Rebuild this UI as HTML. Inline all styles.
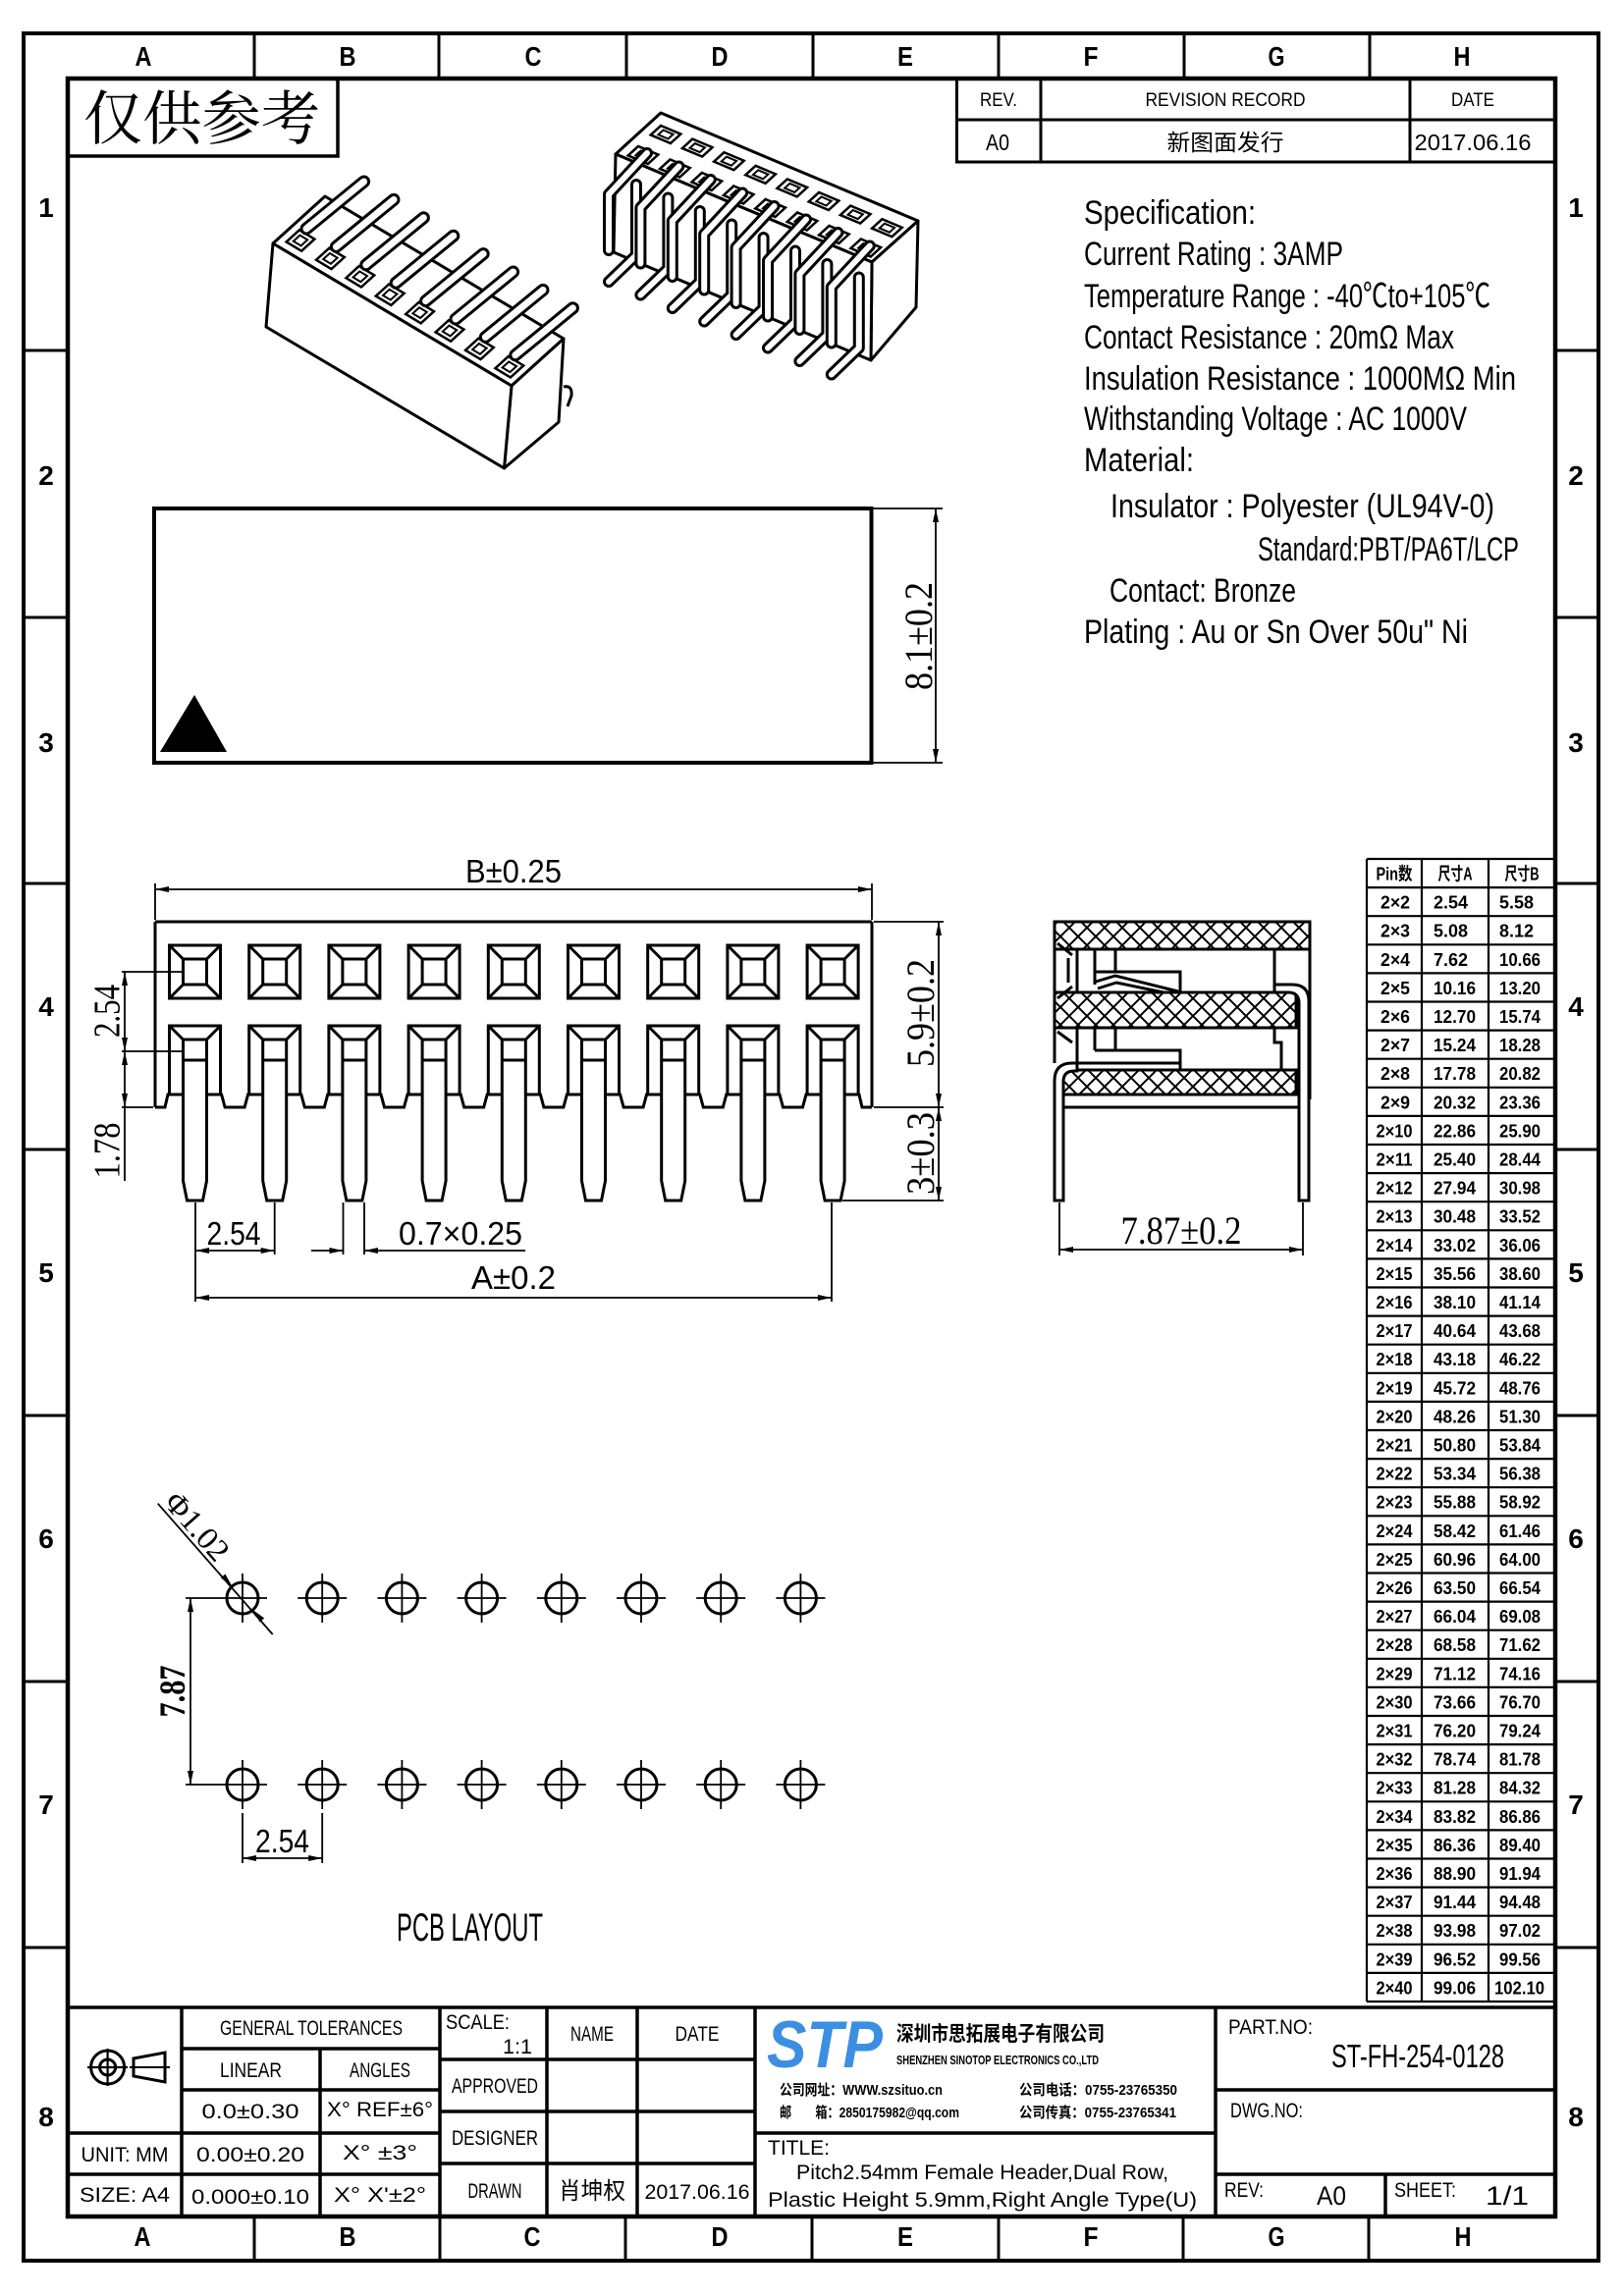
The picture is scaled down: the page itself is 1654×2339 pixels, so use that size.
<!DOCTYPE html>
<html><head><meta charset="utf-8">
<style>
html,body{margin:0;padding:0;background:#fff;}
svg{display:block;}
.s{font-family:"Liberation Sans","Noto Sans CJK SC",sans-serif;fill:#000;}
.r{font-family:"Liberation Serif","Noto Serif CJK SC",serif;fill:#000;}
.k{font-family:"Noto Serif CJK SC","Noto Sans CJK SC",serif;fill:#000;}
.m{text-anchor:middle;}
</style></head><body>
<svg width="1654" height="2339" viewBox="0 0 1654 2339" xmlns="http://www.w3.org/2000/svg">
<defs>
<marker id="ar" viewBox="0 0 14 6" refX="14" refY="3" markerWidth="14" markerHeight="6" markerUnits="userSpaceOnUse" orient="auto-start-reverse"><path d="M0,0L14,3L0,6z" fill="#000"/></marker>
<pattern id="hx" width="18" height="18" patternUnits="userSpaceOnUse"><path d="M0,0L18,18M18,0L0,18" stroke="#000" stroke-width="2"/></pattern>
<g id="fv" fill="none" stroke="#000" stroke-width="3">
<rect x="-26" y="963" width="52" height="54"/>
<rect x="-12" y="977" width="24" height="26"/>
<path d="M-26,963L-12,977M26,963L12,977M-26,1017L-12,1003M26,1017L12,1003"/>
<path d="M-26,1115V1045H26V1115M-26,1045L-12,1059M26,1045L12,1059"/>
<path d="M-12,1059V1203L-8,1223H8L12,1203V1059Z" fill="#fff"/>
<path d="M-12,1059H12M-12,1080H12"/>
</g>
<g id="ph"><circle r="16" fill="none" stroke="#000" stroke-width="3"/><path d="M-25,0H25M0,-25V25" stroke="#000" stroke-width="1.8"/></g>
<g id="o1"><polygon points="14.4,-1.4 1.1,10.7 -14.4,1.4 -1.1,-10.7" fill="#fff" stroke="#000" stroke-width="2.5"/><polygon points="7.2,-0.7 0.55,5.35 -7.2,0.7 -0.55,-5.35" fill="none" stroke="#000" stroke-width="2"/></g>
<g id="p1"><path d="M6,-12L64.6,-60" stroke="#000" stroke-width="13" stroke-linecap="round"/><path d="M6,-12L64.6,-60" stroke="#fff" stroke-width="7" stroke-linecap="round"/></g>
<g id="o2"><polygon points="4.97,8.98 15.31,-0.46 -4.97,-8.98 -15.31,0.46" fill="#fff" stroke="#000" stroke-width="2.5"/><polygon points="2.5,4.5 7.65,-0.23 -2.5,-4.5 -7.65,0.23" fill="none" stroke="#000" stroke-width="2"/></g>
<g id="rr"><path d="M-7,30L-7,102L-35,129" fill="none" stroke="#000" stroke-width="12" stroke-linecap="round" stroke-linejoin="round"/><path d="M-7,30L-7,102L-35,129" fill="none" stroke="#fff" stroke-width="6" stroke-linecap="round" stroke-linejoin="round"/></g>
<g id="rf"><path d="M4,-2L-35,40L-35,97" fill="none" stroke="#000" stroke-width="12" stroke-linecap="round" stroke-linejoin="round"/><path d="M4,-2L-35,40L-35,97" fill="none" stroke="#fff" stroke-width="6" stroke-linecap="round" stroke-linejoin="round"/></g>
</defs>
<rect x="0" y="0" width="1654" height="2339" fill="#fff"/>

<!-- frame -->
<g fill="none" stroke="#000">
<rect x="24" y="34" width="1604" height="2269" stroke-width="4"/>
<rect x="69" y="80" width="1515" height="2178" stroke-width="4.5"/>
<path stroke-width="3" d="M259,34V80M447,34V80M638,34V80M828,34V80M1017,34V80M1206,34V80M1395,34V80
M259,2258V2303M448,2258V2303M637,2258V2303M827,2258V2303M1017,2258V2303M1205,2258V2303M1394,2258V2303
M24,357H69M24,629H69M24,900H69M24,1171H69M24,1442H69M24,1713H69M24,1984H69
M1584,357H1628M1584,629H1628M1584,900H1628M1584,1171H1628M1584,1442H1628M1584,1713H1628M1584,1984H1628"/>
</g>
<g class="s m" font-size="28" font-weight="bold">
<text x="146" y="67" textLength="17" lengthAdjust="spacingAndGlyphs">A</text><text x="354" y="67" textLength="17" lengthAdjust="spacingAndGlyphs">B</text><text x="543" y="67" textLength="17" lengthAdjust="spacingAndGlyphs">C</text><text x="733" y="67" textLength="17" lengthAdjust="spacingAndGlyphs">D</text><text x="922" y="67" textLength="16" lengthAdjust="spacingAndGlyphs">E</text><text x="1111" y="67" textLength="15" lengthAdjust="spacingAndGlyphs">F</text><text x="1300" y="67" textLength="17" lengthAdjust="spacingAndGlyphs">G</text><text x="1489" y="67" textLength="17" lengthAdjust="spacingAndGlyphs">H</text>
<text x="145" y="2288" textLength="17" lengthAdjust="spacingAndGlyphs">A</text><text x="354" y="2288" textLength="17" lengthAdjust="spacingAndGlyphs">B</text><text x="542" y="2288" textLength="17" lengthAdjust="spacingAndGlyphs">C</text><text x="733" y="2288" textLength="17" lengthAdjust="spacingAndGlyphs">D</text><text x="922" y="2288" textLength="16" lengthAdjust="spacingAndGlyphs">E</text><text x="1111" y="2288" textLength="15" lengthAdjust="spacingAndGlyphs">F</text><text x="1300" y="2288" textLength="17" lengthAdjust="spacingAndGlyphs">G</text><text x="1490" y="2288" textLength="17" lengthAdjust="spacingAndGlyphs">H</text>
<text x="47" y="221">1</text><text x="47" y="494">2</text><text x="47" y="766">3</text><text x="47" y="1035">4</text><text x="47" y="1306">5</text><text x="47" y="1577">6</text><text x="47" y="1848">7</text><text x="47" y="2166">8</text>
<text x="1605" y="221">1</text><text x="1605" y="494">2</text><text x="1605" y="766">3</text><text x="1605" y="1035">4</text><text x="1605" y="1306">5</text><text x="1605" y="1577">6</text><text x="1605" y="1848">7</text><text x="1605" y="2166">8</text>
</g>

<!-- reference box -->
<rect x="69" y="80" width="275" height="79" fill="none" stroke="#000" stroke-width="3.5"/>
<text class="k" x="85" y="142" font-size="60" textLength="241" lengthAdjust="spacingAndGlyphs">仅供参考</text>

<!-- revision block -->
<g fill="none" stroke="#000" stroke-width="3">
<rect x="974.5" y="80" width="609.5" height="85"/>
<path d="M974.5,122H1584M1060,80V165M1436,80V165"/>
</g>
<g class="s m" font-size="19">
<text x="1017" y="108" textLength="38" lengthAdjust="spacingAndGlyphs">REV.</text>
<text x="1248" y="108" textLength="163" lengthAdjust="spacingAndGlyphs">REVISION RECORD</text>
<text x="1500" y="108" textLength="44" lengthAdjust="spacingAndGlyphs">DATE</text>
</g>
<g class="s m" font-size="23">
<text x="1016" y="153" textLength="24" lengthAdjust="spacingAndGlyphs">A0</text>
<text x="1248" y="153" textLength="119" lengthAdjust="spacingAndGlyphs">新图面发行</text>
<text x="1500" y="153" textLength="119" lengthAdjust="spacingAndGlyphs">2017.06.16</text>
</g>

<!-- iso view left -->
<g stroke="#000" stroke-width="3" stroke-linejoin="round" fill="#fff">
<polygon points="278,248 331,200 574,345 521,393"/>
<polygon points="521,393 574,345 569,430 513.5,477"/>
<polygon points="278,248 521,393 513.5,477 271,333"/>
<path d="M574,394Q583,392 582,403L578,414" fill="none"/>
</g>
<use href="#o1" x="306" y="245"/><use href="#p1" x="306" y="245"/>
<use href="#o1" x="336.4" y="263.4"/><use href="#p1" x="336.4" y="263.4"/>
<use href="#o1" x="366.8" y="281.8"/><use href="#p1" x="366.8" y="281.8"/>
<use href="#o1" x="397.2" y="300.2"/><use href="#p1" x="397.2" y="300.2"/>
<use href="#o1" x="427.6" y="318.6"/><use href="#p1" x="427.6" y="318.6"/>
<use href="#o1" x="458" y="337"/><use href="#p1" x="458" y="337"/>
<use href="#o1" x="488.4" y="355.4"/><use href="#p1" x="488.4" y="355.4"/>
<use href="#o1" x="518.8" y="373.8"/><use href="#p1" x="518.8" y="373.8"/>

<!-- iso view right -->
<g stroke="#000" stroke-width="3" stroke-linejoin="round" fill="#fff">
<polygon points="673,115 935,225 888,267 627,157"/>
<polygon points="935,225 933,313 887,367 888,267"/>
<polygon points="627,157 888,267 887,367 625,257"/>
</g>
<use href="#o2" x="678" y="137"/><use href="#o2" x="710.2" y="150.6"/><use href="#o2" x="742.4" y="164.2"/><use href="#o2" x="774.6" y="177.8"/><use href="#o2" x="806.8" y="191.4"/><use href="#o2" x="839" y="205"/><use href="#o2" x="871.2" y="218.6"/><use href="#o2" x="903.4" y="232.2"/>
<use href="#o2" x="655" y="158"/><use href="#o2" x="687.4" y="171.5"/><use href="#o2" x="719.8" y="185"/><use href="#o2" x="752.2" y="198.5"/><use href="#o2" x="784.6" y="212"/><use href="#o2" x="817" y="225.5"/><use href="#o2" x="849.4" y="239"/><use href="#o2" x="881.8" y="252.5"/>
<use href="#rr" x="655" y="158"/><use href="#rr" x="687.4" y="171.5"/><use href="#rr" x="719.8" y="185"/><use href="#rr" x="752.2" y="198.5"/><use href="#rr" x="784.6" y="212"/><use href="#rr" x="817" y="225.5"/><use href="#rr" x="849.4" y="239"/><use href="#rr" x="881.8" y="252.5"/>
<use href="#rf" x="655" y="158"/><use href="#rf" x="687.4" y="171.5"/><use href="#rf" x="719.8" y="185"/><use href="#rf" x="752.2" y="198.5"/><use href="#rf" x="784.6" y="212"/><use href="#rf" x="817" y="225.5"/><use href="#rf" x="849.4" y="239"/><use href="#rf" x="881.8" y="252.5"/>

<!-- specification text -->
<g class="s" font-size="34">
<text x="1104" y="228" textLength="175" lengthAdjust="spacingAndGlyphs">Specification:</text>
<text x="1104" y="270" textLength="264" lengthAdjust="spacingAndGlyphs">Current Rating : 3AMP</text>
<text x="1104" y="313" textLength="414" lengthAdjust="spacingAndGlyphs">Temperature Range : -40℃to+105℃</text>
<text x="1104" y="355" textLength="377" lengthAdjust="spacingAndGlyphs">Contact Resistance : 20mΩ Max</text>
<text x="1104" y="397" textLength="440" lengthAdjust="spacingAndGlyphs">Insulation Resistance : 1000MΩ Min</text>
<text x="1104" y="438" textLength="390" lengthAdjust="spacingAndGlyphs">Withstanding Voltage : AC 1000V</text>
<text x="1104" y="480" textLength="112" lengthAdjust="spacingAndGlyphs">Material:</text>
<text x="1131" y="527" textLength="391" lengthAdjust="spacingAndGlyphs">Insulator : Polyester (UL94V-0)</text>
<text x="1281" y="571" textLength="266" lengthAdjust="spacingAndGlyphs">Standard:PBT/PA6T/LCP</text>
<text x="1130" y="613" textLength="190" lengthAdjust="spacingAndGlyphs">Contact: Bronze</text>
<text x="1104" y="655" textLength="391" lengthAdjust="spacingAndGlyphs">Plating : Au or Sn Over 50u" Ni</text>
</g>

<!-- top view rectangle -->
<rect x="157" y="518" width="730.5" height="259" fill="none" stroke="#000" stroke-width="4"/>
<polygon points="198,708 163,766 231,766" fill="#000"/>
<g stroke="#000" stroke-width="1.8" fill="none">
<path d="M889,518H960M889,777H960"/>
<path d="M953,518V777" marker-start="url(#ar)" marker-end="url(#ar)"/>
</g>
<text class="r m" font-size="40" transform="translate(949,648) rotate(-90)" textLength="110" lengthAdjust="spacingAndGlyphs">8.1±0.2</text>

<!-- front view -->
<g fill="none" stroke="#000" stroke-width="3">
<path d="M158,939V1128M888,939V1128M158,939H888"/>
<path d="M158,1128H168L171,1115H225.6L229.1,1128H249.1L252.6,1115H306.8L310.3,1128H330.3L333.8,1115H388L391.5,1128H411.5L415,1115H469.2L472.7,1128H492.7L496.2,1115H550.4L553.9,1128H573.9L577.4,1115H631.6L635.1,1128H655.1L658.6,1115H712.8L716.3,1128H736.3L739.8,1115H794L797.5,1128H817.5L821,1115H875L878,1128H888"/>
</g>
<use href="#fv" x="198.5"/><use href="#fv" x="279.7"/><use href="#fv" x="360.9"/><use href="#fv" x="442.1"/><use href="#fv" x="523.3"/><use href="#fv" x="604.5"/><use href="#fv" x="685.7"/><use href="#fv" x="766.9"/><use href="#fv" x="848.1"/>
<g stroke="#000" stroke-width="1.8" fill="none">
<path d="M158,900V937M888,900V937"/>
<path d="M158,906H888" marker-start="url(#ar)" marker-end="url(#ar)"/>
<path d="M890,939H961M890,1128H961M858,1223H961"/>
<path d="M956,939V1128" marker-start="url(#ar)" marker-end="url(#ar)"/>
<path d="M956,1128V1223" marker-start="url(#ar)" marker-end="url(#ar)"/>
<path d="M124,990H186M124,1071H186M124,1128H156"/>
<path d="M127,990V1071" marker-start="url(#ar)" marker-end="url(#ar)"/>
<path d="M127,1071V1128" marker-start="url(#ar)" marker-end="url(#ar)"/>
<path d="M127,1128V1203"/>
<path d="M199,1225V1326M279.7,1225V1278M349.5,1225V1278M371,1225V1278M847,1225V1326"/>
<path d="M199,1274H279.7" marker-start="url(#ar)" marker-end="url(#ar)"/>
<path d="M317,1274H349.5" marker-end="url(#ar)"/>
<path d="M535,1274H371" marker-end="url(#ar)"/>
<path d="M199,1322H847" marker-start="url(#ar)" marker-end="url(#ar)"/>
</g>
<g class="s m" font-size="33">
<text x="523" y="899" textLength="98" lengthAdjust="spacingAndGlyphs">B±0.25</text>
<text x="238" y="1268" textLength="55" lengthAdjust="spacingAndGlyphs">2.54</text>
<text x="469" y="1268" textLength="126" lengthAdjust="spacingAndGlyphs">0.7×0.25</text>
<text x="523" y="1313" textLength="86" lengthAdjust="spacingAndGlyphs">A±0.2</text>
</g>
<g class="r m">
<text font-size="40" transform="translate(951,1032) rotate(-90)" textLength="110" lengthAdjust="spacingAndGlyphs">5.9±0.2</text>
<text font-size="40" transform="translate(951,1175) rotate(-90)" textLength="84" lengthAdjust="spacingAndGlyphs">3±0.3</text>
<text font-size="38" transform="translate(121.6,1030) rotate(-90)" textLength="54" lengthAdjust="spacingAndGlyphs">2.54</text>
<text font-size="38" transform="translate(121.6,1172) rotate(-90)" textLength="57" lengthAdjust="spacingAndGlyphs">1.78</text>
</g>

<!-- side view -->
<g stroke="#000" stroke-width="3">
<rect x="1074" y="939" width="260" height="28" fill="url(#hx)"/>
<rect x="1074" y="1011" width="246" height="36" fill="url(#hx)"/>
<rect x="1083" y="1090" width="237" height="25" fill="url(#hx)"/>
<rect x="1083" y="1115" width="240" height="13" fill="#fff"/>
<path d="M1298,1003H1316Q1333,1003 1333,1020V1223H1323V1022Q1323,1011 1312,1011H1298Z" fill="#fff"/>
<path d="M1097,1083H1092Q1074,1083 1074,1101V1223H1083V1102Q1083,1091 1094,1091H1097Z" fill="#fff"/>
<g fill="none">
<path d="M1334,967V1120M1074,967V1083"/>
<path d="M1097,967V1011M1298,967V1003M1115,967V1003M1136,967V990M1115,990H1202V1011"/>
<path d="M1116,1000L1136,994L1200,1010M1118,1007L1137,1001L1185,1011"/>
<path d="M1077,961L1092,973M1077,1017L1092,1005M1088,976V1001"/>
<path d="M1097,1047V1090M1115,1047V1070M1136,1047V1070M1115,1070H1202V1090M1097,1083H1202M1298,1047V1062H1305V1090"/>
<path d="M1077,1051L1092,1062"/>
</g>
</g>
<g stroke="#000" stroke-width="1.8" fill="none">
<path d="M1079,1225V1279M1327,1225V1279"/>
<path d="M1079,1273H1327" marker-start="url(#ar)" marker-end="url(#ar)"/>
</g>
<text class="r m" x="1203" y="1267" font-size="40" textLength="123" lengthAdjust="spacingAndGlyphs">7.87±0.2</text>

<!-- table -->
<g fill="none" stroke="#000" stroke-width="2.2">
<path d="M1392,875V2039M1448,875V2039M1516,875V2039"/>
<path d="M1392,875H1584M1392,904.1H1584M1392,933.2H1584M1392,962.3H1584M1392,991.4H1584M1392,1020.5H1584M1392,1049.6H1584M1392,1078.7H1584M1392,1107.8H1584M1392,1136.9H1584M1392,1166H1584M1392,1195.1H1584M1392,1224.2H1584M1392,1253.3H1584M1392,1282.4H1584M1392,1311.5H1584M1392,1340.6H1584M1392,1369.7H1584M1392,1398.8H1584M1392,1427.9H1584M1392,1457H1584M1392,1486.1H1584M1392,1515.2H1584M1392,1544.3H1584M1392,1573.4H1584M1392,1602.5H1584M1392,1631.6H1584M1392,1660.7H1584M1392,1689.8H1584M1392,1718.9H1584M1392,1748H1584M1392,1777.1H1584M1392,1806.2H1584M1392,1835.3H1584M1392,1864.4H1584M1392,1893.5H1584M1392,1922.6H1584M1392,1951.7H1584M1392,1980.8H1584M1392,2009.9H1584M1392,2039H1584"/>
</g>
<g class="s" font-size="18" font-weight="bold">
<text class="m" x="1420" y="896.5" textLength="37" lengthAdjust="spacingAndGlyphs">Pin数</text>
<text class="m" x="1482" y="896.5" textLength="35" lengthAdjust="spacingAndGlyphs">尺寸A</text>
<text class="m" x="1550" y="896.5" textLength="35" lengthAdjust="spacingAndGlyphs">尺寸B</text>
</g>
<g class="s" font-size="18" font-weight="bold">
<text class="m" x="1421" y="925.6" textLength="30" lengthAdjust="spacingAndGlyphs">2×2</text><text x="1460" y="925.6" textLength="35" lengthAdjust="spacingAndGlyphs">2.54</text><text x="1527" y="925.6" textLength="35" lengthAdjust="spacingAndGlyphs">5.58</text>
<text class="m" x="1421" y="954.7" textLength="30" lengthAdjust="spacingAndGlyphs">2×3</text><text x="1460" y="954.7" textLength="35" lengthAdjust="spacingAndGlyphs">5.08</text><text x="1527" y="954.7" textLength="35" lengthAdjust="spacingAndGlyphs">8.12</text>
<text class="m" x="1421" y="983.8" textLength="30" lengthAdjust="spacingAndGlyphs">2×4</text><text x="1460" y="983.8" textLength="35" lengthAdjust="spacingAndGlyphs">7.62</text><text x="1527" y="983.8" textLength="42" lengthAdjust="spacingAndGlyphs">10.66</text>
<text class="m" x="1421" y="1012.9" textLength="30" lengthAdjust="spacingAndGlyphs">2×5</text><text x="1460" y="1012.9" textLength="43" lengthAdjust="spacingAndGlyphs">10.16</text><text x="1527" y="1012.9" textLength="42" lengthAdjust="spacingAndGlyphs">13.20</text>
<text class="m" x="1421" y="1042" textLength="30" lengthAdjust="spacingAndGlyphs">2×6</text><text x="1460" y="1042" textLength="43" lengthAdjust="spacingAndGlyphs">12.70</text><text x="1527" y="1042" textLength="42" lengthAdjust="spacingAndGlyphs">15.74</text>
<text class="m" x="1421" y="1071.1" textLength="30" lengthAdjust="spacingAndGlyphs">2×7</text><text x="1460" y="1071.1" textLength="43" lengthAdjust="spacingAndGlyphs">15.24</text><text x="1527" y="1071.1" textLength="42" lengthAdjust="spacingAndGlyphs">18.28</text>
<text class="m" x="1421" y="1100.2" textLength="30" lengthAdjust="spacingAndGlyphs">2×8</text><text x="1460" y="1100.2" textLength="43" lengthAdjust="spacingAndGlyphs">17.78</text><text x="1527" y="1100.2" textLength="42" lengthAdjust="spacingAndGlyphs">20.82</text>
<text class="m" x="1421" y="1129.3" textLength="30" lengthAdjust="spacingAndGlyphs">2×9</text><text x="1460" y="1129.3" textLength="43" lengthAdjust="spacingAndGlyphs">20.32</text><text x="1527" y="1129.3" textLength="42" lengthAdjust="spacingAndGlyphs">23.36</text>
<text class="m" x="1420" y="1158.4" textLength="37" lengthAdjust="spacingAndGlyphs">2×10</text><text x="1460" y="1158.4" textLength="43" lengthAdjust="spacingAndGlyphs">22.86</text><text x="1527" y="1158.4" textLength="42" lengthAdjust="spacingAndGlyphs">25.90</text>
<text class="m" x="1420" y="1187.5" textLength="37" lengthAdjust="spacingAndGlyphs">2×11</text><text x="1460" y="1187.5" textLength="43" lengthAdjust="spacingAndGlyphs">25.40</text><text x="1527" y="1187.5" textLength="42" lengthAdjust="spacingAndGlyphs">28.44</text>
<text class="m" x="1420" y="1216.6" textLength="37" lengthAdjust="spacingAndGlyphs">2×12</text><text x="1460" y="1216.6" textLength="43" lengthAdjust="spacingAndGlyphs">27.94</text><text x="1527" y="1216.6" textLength="42" lengthAdjust="spacingAndGlyphs">30.98</text>
<text class="m" x="1420" y="1245.7" textLength="37" lengthAdjust="spacingAndGlyphs">2×13</text><text x="1460" y="1245.7" textLength="43" lengthAdjust="spacingAndGlyphs">30.48</text><text x="1527" y="1245.7" textLength="42" lengthAdjust="spacingAndGlyphs">33.52</text>
<text class="m" x="1420" y="1274.8" textLength="37" lengthAdjust="spacingAndGlyphs">2×14</text><text x="1460" y="1274.8" textLength="43" lengthAdjust="spacingAndGlyphs">33.02</text><text x="1527" y="1274.8" textLength="42" lengthAdjust="spacingAndGlyphs">36.06</text>
<text class="m" x="1420" y="1303.9" textLength="37" lengthAdjust="spacingAndGlyphs">2×15</text><text x="1460" y="1303.9" textLength="43" lengthAdjust="spacingAndGlyphs">35.56</text><text x="1527" y="1303.9" textLength="42" lengthAdjust="spacingAndGlyphs">38.60</text>
<text class="m" x="1420" y="1333" textLength="37" lengthAdjust="spacingAndGlyphs">2×16</text><text x="1460" y="1333" textLength="43" lengthAdjust="spacingAndGlyphs">38.10</text><text x="1527" y="1333" textLength="42" lengthAdjust="spacingAndGlyphs">41.14</text>
<text class="m" x="1420" y="1362.1" textLength="37" lengthAdjust="spacingAndGlyphs">2×17</text><text x="1460" y="1362.1" textLength="43" lengthAdjust="spacingAndGlyphs">40.64</text><text x="1527" y="1362.1" textLength="42" lengthAdjust="spacingAndGlyphs">43.68</text>
<text class="m" x="1420" y="1391.2" textLength="37" lengthAdjust="spacingAndGlyphs">2×18</text><text x="1460" y="1391.2" textLength="43" lengthAdjust="spacingAndGlyphs">43.18</text><text x="1527" y="1391.2" textLength="42" lengthAdjust="spacingAndGlyphs">46.22</text>
<text class="m" x="1420" y="1420.3" textLength="37" lengthAdjust="spacingAndGlyphs">2×19</text><text x="1460" y="1420.3" textLength="43" lengthAdjust="spacingAndGlyphs">45.72</text><text x="1527" y="1420.3" textLength="42" lengthAdjust="spacingAndGlyphs">48.76</text>
<text class="m" x="1420" y="1449.4" textLength="37" lengthAdjust="spacingAndGlyphs">2×20</text><text x="1460" y="1449.4" textLength="43" lengthAdjust="spacingAndGlyphs">48.26</text><text x="1527" y="1449.4" textLength="42" lengthAdjust="spacingAndGlyphs">51.30</text>
<text class="m" x="1420" y="1478.5" textLength="37" lengthAdjust="spacingAndGlyphs">2×21</text><text x="1460" y="1478.5" textLength="43" lengthAdjust="spacingAndGlyphs">50.80</text><text x="1527" y="1478.5" textLength="42" lengthAdjust="spacingAndGlyphs">53.84</text>
<text class="m" x="1420" y="1507.6" textLength="37" lengthAdjust="spacingAndGlyphs">2×22</text><text x="1460" y="1507.6" textLength="43" lengthAdjust="spacingAndGlyphs">53.34</text><text x="1527" y="1507.6" textLength="42" lengthAdjust="spacingAndGlyphs">56.38</text>
<text class="m" x="1420" y="1536.7" textLength="37" lengthAdjust="spacingAndGlyphs">2×23</text><text x="1460" y="1536.7" textLength="43" lengthAdjust="spacingAndGlyphs">55.88</text><text x="1527" y="1536.7" textLength="42" lengthAdjust="spacingAndGlyphs">58.92</text>
<text class="m" x="1420" y="1565.8" textLength="37" lengthAdjust="spacingAndGlyphs">2×24</text><text x="1460" y="1565.8" textLength="43" lengthAdjust="spacingAndGlyphs">58.42</text><text x="1527" y="1565.8" textLength="42" lengthAdjust="spacingAndGlyphs">61.46</text>
<text class="m" x="1420" y="1594.9" textLength="37" lengthAdjust="spacingAndGlyphs">2×25</text><text x="1460" y="1594.9" textLength="43" lengthAdjust="spacingAndGlyphs">60.96</text><text x="1527" y="1594.9" textLength="42" lengthAdjust="spacingAndGlyphs">64.00</text>
<text class="m" x="1420" y="1624" textLength="37" lengthAdjust="spacingAndGlyphs">2×26</text><text x="1460" y="1624" textLength="43" lengthAdjust="spacingAndGlyphs">63.50</text><text x="1527" y="1624" textLength="42" lengthAdjust="spacingAndGlyphs">66.54</text>
<text class="m" x="1420" y="1653.1" textLength="37" lengthAdjust="spacingAndGlyphs">2×27</text><text x="1460" y="1653.1" textLength="43" lengthAdjust="spacingAndGlyphs">66.04</text><text x="1527" y="1653.1" textLength="42" lengthAdjust="spacingAndGlyphs">69.08</text>
<text class="m" x="1420" y="1682.2" textLength="37" lengthAdjust="spacingAndGlyphs">2×28</text><text x="1460" y="1682.2" textLength="43" lengthAdjust="spacingAndGlyphs">68.58</text><text x="1527" y="1682.2" textLength="42" lengthAdjust="spacingAndGlyphs">71.62</text>
<text class="m" x="1420" y="1711.3" textLength="37" lengthAdjust="spacingAndGlyphs">2×29</text><text x="1460" y="1711.3" textLength="43" lengthAdjust="spacingAndGlyphs">71.12</text><text x="1527" y="1711.3" textLength="42" lengthAdjust="spacingAndGlyphs">74.16</text>
<text class="m" x="1420" y="1740.4" textLength="37" lengthAdjust="spacingAndGlyphs">2×30</text><text x="1460" y="1740.4" textLength="43" lengthAdjust="spacingAndGlyphs">73.66</text><text x="1527" y="1740.4" textLength="42" lengthAdjust="spacingAndGlyphs">76.70</text>
<text class="m" x="1420" y="1769.5" textLength="37" lengthAdjust="spacingAndGlyphs">2×31</text><text x="1460" y="1769.5" textLength="43" lengthAdjust="spacingAndGlyphs">76.20</text><text x="1527" y="1769.5" textLength="42" lengthAdjust="spacingAndGlyphs">79.24</text>
<text class="m" x="1420" y="1798.6" textLength="37" lengthAdjust="spacingAndGlyphs">2×32</text><text x="1460" y="1798.6" textLength="43" lengthAdjust="spacingAndGlyphs">78.74</text><text x="1527" y="1798.6" textLength="42" lengthAdjust="spacingAndGlyphs">81.78</text>
<text class="m" x="1420" y="1827.7" textLength="37" lengthAdjust="spacingAndGlyphs">2×33</text><text x="1460" y="1827.7" textLength="43" lengthAdjust="spacingAndGlyphs">81.28</text><text x="1527" y="1827.7" textLength="42" lengthAdjust="spacingAndGlyphs">84.32</text>
<text class="m" x="1420" y="1856.8" textLength="37" lengthAdjust="spacingAndGlyphs">2×34</text><text x="1460" y="1856.8" textLength="43" lengthAdjust="spacingAndGlyphs">83.82</text><text x="1527" y="1856.8" textLength="42" lengthAdjust="spacingAndGlyphs">86.86</text>
<text class="m" x="1420" y="1885.9" textLength="37" lengthAdjust="spacingAndGlyphs">2×35</text><text x="1460" y="1885.9" textLength="43" lengthAdjust="spacingAndGlyphs">86.36</text><text x="1527" y="1885.9" textLength="42" lengthAdjust="spacingAndGlyphs">89.40</text>
<text class="m" x="1420" y="1915" textLength="37" lengthAdjust="spacingAndGlyphs">2×36</text><text x="1460" y="1915" textLength="43" lengthAdjust="spacingAndGlyphs">88.90</text><text x="1527" y="1915" textLength="42" lengthAdjust="spacingAndGlyphs">91.94</text>
<text class="m" x="1420" y="1944.1" textLength="37" lengthAdjust="spacingAndGlyphs">2×37</text><text x="1460" y="1944.1" textLength="43" lengthAdjust="spacingAndGlyphs">91.44</text><text x="1527" y="1944.1" textLength="42" lengthAdjust="spacingAndGlyphs">94.48</text>
<text class="m" x="1420" y="1973.2" textLength="37" lengthAdjust="spacingAndGlyphs">2×38</text><text x="1460" y="1973.2" textLength="43" lengthAdjust="spacingAndGlyphs">93.98</text><text x="1527" y="1973.2" textLength="42" lengthAdjust="spacingAndGlyphs">97.02</text>
<text class="m" x="1420" y="2002.3" textLength="37" lengthAdjust="spacingAndGlyphs">2×39</text><text x="1460" y="2002.3" textLength="43" lengthAdjust="spacingAndGlyphs">96.52</text><text x="1527" y="2002.3" textLength="42" lengthAdjust="spacingAndGlyphs">99.56</text>
<text class="m" x="1420" y="2031.4" textLength="37" lengthAdjust="spacingAndGlyphs">2×40</text><text x="1460" y="2031.4" textLength="43" lengthAdjust="spacingAndGlyphs">99.06</text><text x="1522" y="2031.4" textLength="51" lengthAdjust="spacingAndGlyphs">102.10</text>
</g>

<!-- PCB layout -->
<use href="#ph" x="247" y="1628"/><use href="#ph" x="328.2" y="1628"/><use href="#ph" x="409.4" y="1628"/><use href="#ph" x="490.6" y="1628"/><use href="#ph" x="571.8" y="1628"/><use href="#ph" x="653" y="1628"/><use href="#ph" x="734.2" y="1628"/><use href="#ph" x="815.4" y="1628"/>
<use href="#ph" x="247" y="1818"/><use href="#ph" x="328.2" y="1818"/><use href="#ph" x="409.4" y="1818"/><use href="#ph" x="490.6" y="1818"/><use href="#ph" x="571.8" y="1818"/><use href="#ph" x="653" y="1818"/><use href="#ph" x="734.2" y="1818"/><use href="#ph" x="815.4" y="1818"/>
<g stroke="#000" stroke-width="1.8" fill="none">
<path d="M160.7,1531.7L277.7,1665"/>
<path d="M189,1628H222M189,1818H222"/>
<path d="M194,1628V1818" marker-start="url(#ar)" marker-end="url(#ar)"/>
<path d="M247,1847V1898M328.2,1847V1898"/>
<path d="M247,1893H328.2" marker-start="url(#ar)" marker-end="url(#ar)"/>
</g>
<polygon points="236.4,1616 229.4,1603.5 224.9,1607.5" fill="#000"/>
<polygon points="257.6,1640 269.1,1648.5 264.6,1652.5" fill="#000"/>
<text class="r m" font-size="32" transform="translate(192.7,1562) rotate(48.7)" textLength="82" lengthAdjust="spacingAndGlyphs">Φ1.02</text>
<text class="r m" font-size="37" font-weight="bold" transform="translate(188,1723) rotate(-90)" textLength="53" lengthAdjust="spacingAndGlyphs">7.87</text>
<text class="s m" x="287.5" y="1887" font-size="33" textLength="55" lengthAdjust="spacingAndGlyphs">2.54</text>
<text class="s" x="404" y="1977" font-size="40" textLength="149" lengthAdjust="spacingAndGlyphs">PCB LAYOUT</text>

<!-- title block -->
<g fill="none" stroke="#000" stroke-width="3.5">
<path d="M69,2045H1584"/>
<path d="M185,2045V2258M326,2087V2258M448,2045V2258M557,2045V2258M649,2045V2258M769,2045V2258M1238,2045V2258M1411,2215V2258"/>
<path d="M185,2087H448M185,2129H448M69,2173H448M69,2215H448"/>
<path d="M448,2098H769M448,2151H769M448,2204H769"/>
<path d="M769,2173H1238M1238,2129H1584M1238,2215H1584"/>
</g>
<g fill="none" stroke="#000" stroke-width="3">
<circle cx="109.6" cy="2106" r="17"/>
<circle cx="109.6" cy="2106" r="8"/>
<path d="M89,2106H130M109.6,2087V2125" stroke-width="2.2"/>
<polygon points="136,2097 168,2091 168,2121 136,2115"/>
<path d="M132,2106H173" stroke-width="2"/>
</g>
<g class="s" font-size="21">
<text class="m" x="317" y="2073" textLength="186" lengthAdjust="spacingAndGlyphs">GENERAL TOLERANCES</text>
<text class="m" x="255.5" y="2116" textLength="63" lengthAdjust="spacingAndGlyphs">LINEAR</text>
<text class="m" x="387" y="2116" textLength="62" lengthAdjust="spacingAndGlyphs">ANGLES</text>
<text class="m" x="255" y="2158" textLength="99" lengthAdjust="spacingAndGlyphs">0.0±0.30</text>
<text class="m" x="387" y="2156" textLength="108" lengthAdjust="spacingAndGlyphs">X° REF±6°</text>
<text class="m" x="127" y="2202" textLength="89" lengthAdjust="spacingAndGlyphs">UNIT: MM</text>
<text class="m" x="255" y="2202" textLength="110" lengthAdjust="spacingAndGlyphs">0.00±0.20</text>
<text class="m" x="387" y="2200" textLength="76" lengthAdjust="spacingAndGlyphs">X° ±3°</text>
<text class="m" x="127" y="2243" textLength="92" lengthAdjust="spacingAndGlyphs">SIZE: A4</text>
<text class="m" x="255" y="2245" textLength="120" lengthAdjust="spacingAndGlyphs">0.000±0.10</text>
<text class="m" x="387" y="2243" textLength="94" lengthAdjust="spacingAndGlyphs">X° X'±2°</text>
<text x="454" y="2067" textLength="65" lengthAdjust="spacingAndGlyphs">SCALE:</text>
<text x="512" y="2092" textLength="30" lengthAdjust="spacingAndGlyphs">1:1</text>
<text class="m" x="603" y="2079" textLength="44" lengthAdjust="spacingAndGlyphs">NAME</text>
<text class="m" x="710" y="2079" textLength="45" lengthAdjust="spacingAndGlyphs">DATE</text>
<text class="m" x="504" y="2132" textLength="88" lengthAdjust="spacingAndGlyphs">APPROVED</text>
<text class="m" x="504" y="2185" textLength="88" lengthAdjust="spacingAndGlyphs">DESIGNER</text>
<text class="m" x="504" y="2239" textLength="55" lengthAdjust="spacingAndGlyphs">DRAWN</text>
<text class="m" x="603" y="2240" font-size="24" textLength="68" lengthAdjust="spacingAndGlyphs">肖坤权</text>
<text class="m" x="710" y="2240" textLength="107" lengthAdjust="spacingAndGlyphs">2017.06.16</text>
<text x="1251" y="2072" textLength="86" lengthAdjust="spacingAndGlyphs">PART.NO:</text>
<text x="1253" y="2157" textLength="74" lengthAdjust="spacingAndGlyphs">DWG.NO:</text>
<text x="1247" y="2238" textLength="40" lengthAdjust="spacingAndGlyphs">REV:</text>
<text x="1420" y="2238" textLength="63" lengthAdjust="spacingAndGlyphs">SHEET:</text>
<text x="782" y="2195" textLength="63" lengthAdjust="spacingAndGlyphs">TITLE:</text>
<text x="811" y="2220" textLength="379" lengthAdjust="spacingAndGlyphs">Pitch2.54mm Female Header,Dual Row,</text>
<text x="782" y="2248" textLength="437" lengthAdjust="spacingAndGlyphs">Plastic Height 5.9mm,Right Angle Type(U)</text>
</g>
<g class="s">
<text x="1356" y="2106" font-size="33" textLength="176" lengthAdjust="spacingAndGlyphs">ST-FH-254-0128</text>
<text class="m" x="1356" y="2246" font-size="27" textLength="30" lengthAdjust="spacingAndGlyphs">A0</text>
<text class="m" x="1535" y="2246" font-size="27" textLength="44" lengthAdjust="spacingAndGlyphs">1/1</text>
</g>
<!-- logo -->
<text x="781" y="2106" font-family="Liberation Sans, sans-serif" font-size="68" font-weight="bold" font-style="italic" fill="#3b8fe3" textLength="118" lengthAdjust="spacingAndGlyphs">STP</text>
<g class="s">
<text x="913" y="2079" font-size="21" font-weight="bold" textLength="212" lengthAdjust="spacingAndGlyphs">深圳市思拓展电子有限公司</text>
<text x="913" y="2103" font-size="13" font-weight="bold" textLength="206" lengthAdjust="spacingAndGlyphs">SHENZHEN SINOTOP ELECTRONICS CO.,LTD</text>
<text x="794" y="2134" font-size="15" font-weight="bold" textLength="166" lengthAdjust="spacingAndGlyphs">公司网址：WWW.szsituo.cn</text>
<text x="794" y="2157" font-size="15" font-weight="bold" textLength="183" lengthAdjust="spacingAndGlyphs">邮　　箱：2850175982@qq.com</text>
<text x="1038" y="2134" font-size="15" font-weight="bold" textLength="161" lengthAdjust="spacingAndGlyphs">公司电话：0755-23765350</text>
<text x="1038" y="2157" font-size="15" font-weight="bold" textLength="160" lengthAdjust="spacingAndGlyphs">公司传真：0755-23765341</text>
</g>
</svg>
</body></html>
